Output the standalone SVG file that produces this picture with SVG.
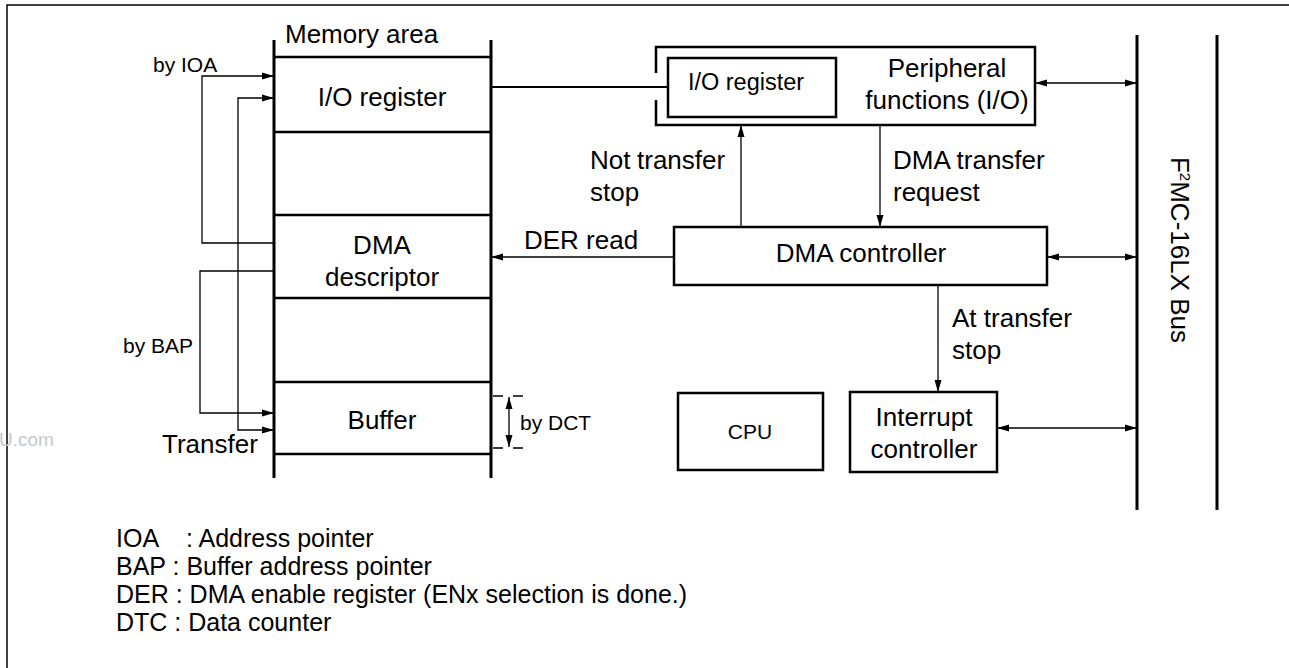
<svg xmlns="http://www.w3.org/2000/svg" width="1289" height="668" viewBox="0 0 1289 668">
<style>
.t{font-family:"Liberation Sans",Arial,Helvetica,sans-serif;font-size:26px;fill:#000}
.s{font-size:21px}
.lg{font-size:25px}
.m{text-anchor:middle}
.box{fill:none;stroke:#000;stroke-width:2.5}
.thick{stroke:#000;stroke-width:3;fill:none}
.hl{stroke:#000;stroke-width:2.5;fill:none}
.ln{stroke:#000;stroke-width:1.3;fill:none}
.wm{font-family:"Liberation Sans",Arial,sans-serif;font-size:19px;fill:#c4c8cc}
</style>
<defs>
<marker id="ah" markerUnits="userSpaceOnUse" markerWidth="12" markerHeight="8" refX="12" refY="4" orient="auto-start-reverse" viewBox="0 0 12 8">
<path d="M0,0.5 L12,4 L0,7.5 z" fill="#000"/>
</marker>
</defs>
<rect width="1289" height="668" fill="#fff"/>
<path d="M7,668 V5 H1289" fill="none" stroke="#000" stroke-width="1.5"/>
<text class="wm" x="-1" y="446">U.com</text>

<g id="memory">
<line class="thick" x1="274" y1="40" x2="274" y2="478"/>
<line class="thick" x1="491" y1="40" x2="491" y2="478"/>
<text class="t" x="285" y="43">Memory area</text>
</g>
<g id="mem-io-register">
<line class="hl" x1="274" y1="57" x2="491" y2="57"/>
<line class="hl" x1="274" y1="132" x2="491" y2="132"/>
<text class="t m" x="382" y="106">I/O register</text>
</g>
<g id="mem-dma-descriptor">
<line class="hl" x1="274" y1="215" x2="491" y2="215"/>
<line class="hl" x1="274" y1="298" x2="491" y2="298"/>
<text class="t m" x="382" y="254">DMA</text>
<text class="t m" x="382" y="286">descriptor</text>
</g>
<g id="mem-buffer">
<line class="hl" x1="274" y1="382" x2="491" y2="382"/>
<line class="hl" x1="274" y1="454" x2="491" y2="454"/>
<text class="t m" x="382" y="429">Buffer</text>
</g>

<g id="peripheral">
<path class="box" d="M656,73 V47 H1035 V125 H656 V100"/>
<rect class="box" x="668" y="58" width="168" height="59"/>
<text class="t m" x="746" y="90" style="font-size:23.5px">I/O register</text>
<text class="t m" x="947" y="77">Peripheral</text>
<text class="t m" x="947" y="109">functions (I/O)</text>
</g>

<g id="dma-controller">
<rect class="box" x="674" y="227" width="373" height="58"/>
<text class="t m" x="861" y="262">DMA controller</text>
</g>

<g id="cpu">
<rect class="box" x="678" y="393" width="145" height="77"/>
<text class="t s m" x="750" y="439">CPU</text>
</g>

<g id="interrupt-controller">
<rect class="box" x="850" y="392" width="147" height="80"/>
<text class="t m" x="924" y="426">Interrupt</text>
<text class="t m" x="924" y="458">controller</text>
</g>

<g id="bus">
<line class="thick" x1="1137" y1="35" x2="1137" y2="510"/>
<line class="thick" x1="1217" y1="35" x2="1217" y2="510"/>
<text class="t m" transform="translate(1171,250) rotate(90)">F<tspan style="font-size:15px" dy="-9">2</tspan><tspan dy="9">MC-16LX Bus</tspan></text>
</g>

<g id="connectors">
<path class="ln" d="M274,243 H202 V76 H274" marker-end="url(#ah)"/>
<path class="ln" d="M274,98 H238 V430 H274" marker-start="url(#ah)" marker-end="url(#ah)"/>
<path class="ln" d="M274,271 H200 V413 H274" marker-end="url(#ah)"/>
<line x1="491" y1="87" x2="668" y2="87" stroke="#000" stroke-width="2.2"/>
<path class="ln" d="M741,227 V125" marker-end="url(#ah)"/>
<path class="ln" d="M880,125 V227" marker-end="url(#ah)"/>
<path class="ln" d="M674,257 H491" marker-end="url(#ah)"/>
<path class="ln" d="M1035,83 H1137" marker-start="url(#ah)" marker-end="url(#ah)"/>
<path class="ln" d="M1047,257 H1137" marker-start="url(#ah)" marker-end="url(#ah)"/>
<path class="ln" d="M938,285 V392" marker-end="url(#ah)"/>
<path class="ln" d="M997,428 H1137" marker-start="url(#ah)" marker-end="url(#ah)"/>
<path class="ln" d="M509,397 V447" marker-start="url(#ah)" marker-end="url(#ah)"/>
<line x1="493" y1="396" x2="523" y2="396" stroke="#000" stroke-width="1.5" stroke-dasharray="10,10"/>
<line x1="493" y1="448" x2="523" y2="448" stroke="#000" stroke-width="1.5" stroke-dasharray="10,10"/>
</g>

<g id="labels">
<text class="t s" x="153" y="72">by IOA</text>
<text class="t s" x="123" y="353">by BAP</text>
<text class="t" x="162" y="453">Transfer</text>
<text class="t s" x="520" y="430">by DCT</text>
<text class="t" x="590" y="169">Not<tspan x="637">transfer</tspan></text>
<text class="t" x="590" y="201">stop</text>
<text class="t" x="893" y="169">DMA transfer</text>
<text class="t" x="893" y="201">request</text>
<text class="t" x="524" y="249">DER read</text>
<text class="t" x="952" y="327">At transfer</text>
<text class="t" x="952" y="359">stop</text>
</g>

<g id="legend">
<text class="t lg" x="116" y="547">IOA</text>
<text class="t lg" x="186" y="547">: Address pointer</text>
<text class="t lg" x="116" y="575">BAP : Buffer address pointer</text>
<text class="t lg" x="116" y="603">DER : DMA enable register (ENx selection is done.)</text>
<text class="t lg" x="116" y="631">DTC : Data counter</text>
</g>
</svg>
